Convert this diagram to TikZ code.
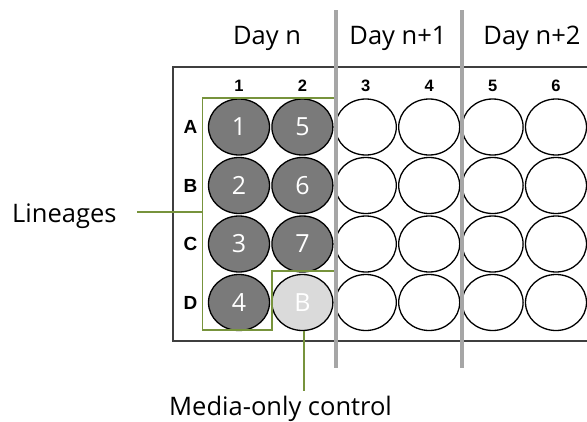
\documentclass[tikz,border=0pt]{standalone}
\usepackage{fontspec}
\usetikzlibrary{shapes.geometric}
\setmainfont{Open Sans}
\newfontfamily\labelfont{Liberation Sans}
\definecolor{wellDark}{HTML}{7A7A7A}
\definecolor{wellLight}{HTML}{DADADA}
\definecolor{lineGreen}{HTML}{77933C}
\definecolor{dayGray}{HTML}{A6A6A6}
\definecolor{plateEdge}{HTML}{3F3F3F}
\begin{document}
\begin{tikzpicture}[x=1pt,y=-1pt,
  well/.style={ellipse, draw=black, line width=1.3pt, minimum width=61pt, minimum height=56pt, inner sep=0pt},
  filled/.style={well, fill=wellDark, text=white, font=\fontsize{25}{26}\selectfont},
  blank/.style={well, fill=wellLight, text=white, font=\fontsize{25}{26}\selectfont},
  empty/.style={well, fill=white},
  colidx/.style={font=\labelfont\bfseries\fontsize{16.5}{17}\selectfont, inner sep=0pt},
  rowidx/.style={font=\labelfont\bfseries\fontsize{19}{20}\selectfont, inner sep=0pt},
  day/.style={font=\fontsize{25.5}{27}\selectfont, inner sep=0pt, anchor=base},
  callout/.style={font=\fontsize{25.5}{27}\selectfont, inner sep=0pt, anchor=base west},
  green/.style={draw=lineGreen, line width=1.6pt},
  divider/.style={draw=dayGray, line width=4pt}]
\useasboundingbox (0,0) rectangle (587,421);
\fill[white] (0,0) rectangle (587,421);
\begin{scope}
\clip (0,0) rectangle (587,421);
% plate outline (runs off the right edge)
\draw[plateEdge, line width=1.4pt] (173,67) rectangle (610,341);
% wells
\foreach \c/\x in {3/365.8,4/429.2,5/492.6,6/556}{
  \foreach \r/\y in {A/127,B/185.5,C/244,D/302.5}{
    \node[empty] (w\r\c) at (\x,\y) {};
  }
}
\end{scope}
\node[filled] (wA1) at (239,127) {1};
\node[filled] (wB1) at (239,185.5) {2};
\node[filled] (wC1) at (239,244) {3};
\node[filled] (wD1) at (239,302.5) {4};
\node[filled] (wA2) at (302.4,127) {5};
\node[filled] (wB2) at (302.4,185.5) {6};
\node[filled] (wC2) at (302.4,244) {7};
\node[blank]  (wD2) at (302.4,302.5) {B};
% column and row indices
\foreach \c/\x in {1/239,2/302.4,3/365.8,4/429.2,5/492.6,6/556}{
  \node[colidx] (col\c) at (\x,85.5) {\c};
}
\foreach \r/\y in {A/127,B/185.5,C/244,D/302.5}{
  \node[rowidx] (row\r) at (190.5,\y) {\r};
}
% lineage outline and media-only outline
\coordinate (gTopR) at (336,98);
\coordinate (gTopL) at (202.5,98);
\coordinate (gBotL) at (202.5,330);
\coordinate (gBotR) at (272,330);
\coordinate (gMidL) at (272,271);
\coordinate (gMidR) at (336,271);
\draw[green] (gTopR) -- (gTopL) -- (gBotL) -- (gBotR) -- (gMidL) -- (gMidR);
% day dividers
\coordinate (d1t) at (336,10);
\coordinate (d1b) at (336,368);
\coordinate (d2t) at (462,10);
\coordinate (d2b) at (462,368);
\draw[divider] (d1t) -- (d1b);
\draw[divider] (d2t) -- (d2b);
% day headers
\node[day] (dayN) at (267,44) {Day n};
\node[day] (dayN1) at (398,44) {Day n+1};
\node[day] (dayN2) at (532,44) {Day n+2};
% callouts
\node[callout] (lin) at (12,222) {Lineages};
\coordinate (linStart) at (137,212);
\coordinate (linEnd) at (202.5,212);
\draw[green] (linStart) -- (linEnd);
\node[callout] (media) at (169,415) {Media-only control};
\coordinate (mediaEnd) at (304,391);
\draw[green] (wD2.south -| mediaEnd) -- (mediaEnd);
\end{tikzpicture}
\end{document}
